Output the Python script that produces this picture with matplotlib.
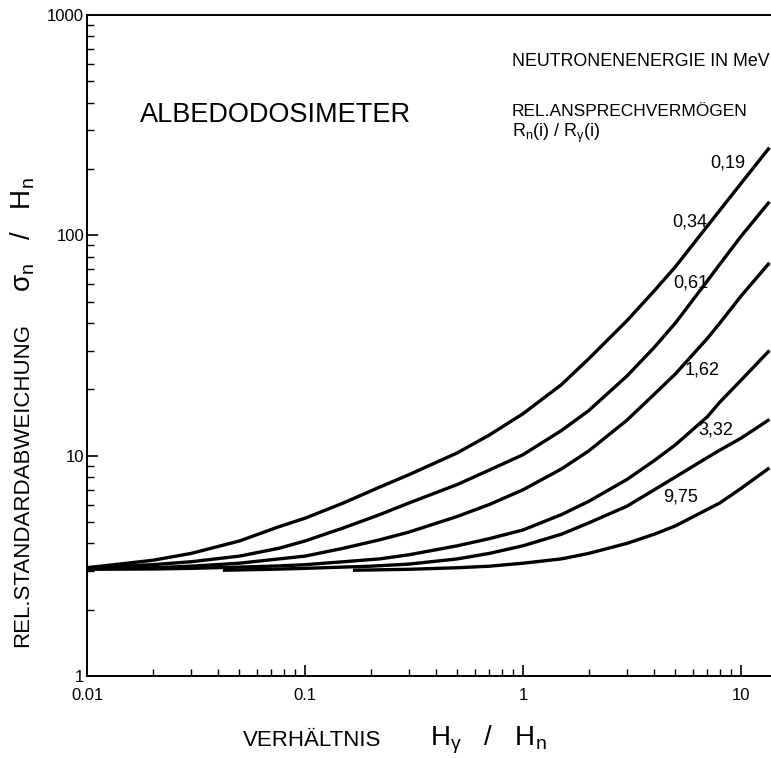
import numpy as np
import matplotlib
matplotlib.use("Agg")
import matplotlib.pyplot as plt
from matplotlib import font_manager

# ablesewerte: rel. standardabweichung sigma_n/H_n ueber H_gamma/H_n
x_a = [0.01, 0.02, 0.03, 0.05, 0.076, 0.1, 0.15, 0.22, 0.3, 0.5, 0.7, 1, 1.5, 2, 3, 4, 5, 7, 8, 10, 13.5]
y_019 = [3.1, 3.35, 3.6, 4.1, 4.76, 5.2, 6.1, 7.2, 8.2, 10.3, 12.4, 15.5, 21, 27.5, 41, 56, 72, 110, 130, 172, 250]
y_034 = [3.1, 3.2, 3.3, 3.5, 3.8, 4.1, 4.7, 5.4, 6.1, 7.4, 8.6, 10.1, 13, 16, 23, 31, 40, 62, 74, 99, 142]
y_061 = [3.08, 3.1, 3.15, 3.25, 3.4, 3.5, 3.8, 4.15, 4.5, 5.3, 6.0, 7.0, 8.7, 10.5, 14.5, 19, 23.5, 34, 40, 53, 75]
y_162 = [3.05, 3.06, 3.08, 3.12, 3.16, 3.2, 3.3, 3.4, 3.55, 3.9, 4.2, 4.6, 5.4, 6.2, 7.8, 9.5, 11.2, 15, 17.5, 22, 30]

x_332 = [0.042, 0.07, 0.1, 0.2, 0.3, 0.5, 0.7, 1, 1.5, 2, 3, 4, 5, 7, 8, 10, 13.5]
y_332 = [3.02, 3.05, 3.08, 3.15, 3.22, 3.4, 3.6, 3.9, 4.4, 4.95, 5.9, 7.0, 8.0, 9.8, 10.6, 12.0, 14.6]

x_975 = [0.166, 0.3, 0.5, 0.7, 1, 1.5, 2, 3, 4, 5, 7, 8, 10, 13.5]
y_975 = [3.02, 3.05, 3.1, 3.15, 3.25, 3.4, 3.6, 4.0, 4.4, 4.8, 5.7, 6.1, 7.1, 8.8]

kurven = [
    ("0,19", x_a, y_019),
    ("0,34", x_a, y_034),
    ("0,61", x_a, y_061),
    ("1,62", x_a, y_162),
    ("3,32", x_332, y_332),
    ("9,75", x_975, y_975),
]
# beschriftung der kurven (pixel, rechte kante / mitte)
label_pos = [(745, 163), (707, 222), (708, 283), (720, 370), (733, 430), (698, 497)]

installed = {f.name for f in font_manager.fontManager.ttflist}
family = [f for f in ["Liberation Sans", "DejaVu Sans"] if f in installed]
plt.rcParams["font.family"] = family
plt.rcParams["mathtext.fontset"] = "custom"
plt.rcParams["mathtext.rm"] = family[0]

W, H = 771, 758
fig = plt.figure(figsize=(W / 100, H / 100), dpi=100)
ax = fig.add_axes([87 / W, (H - 676) / H, (W - 87) / W, (676 - 15) / H])

for name, xs, ys in kurven:
    ax.plot(xs, ys, "-k", lw=2.4, solid_capstyle="butt", solid_joinstyle="round")

ax.set_xscale("log")
ax.set_yscale("log")
ax.set_xlim(0.01, 10 ** (1 + 30 / 218))
ax.set_ylim(1, 1000)
ax.set_xticks([0.01, 0.1, 1, 10], ["0.01", "0.1", "1", "10"])
ax.set_yticks([1, 10, 100, 1000], ["1", "10", "100", "1000"])
ax.tick_params(which="major", direction="in", length=8, width=1.2, labelsize=12)
ax.tick_params(which="minor", direction="in", length=5, width=1.0)
ax.tick_params(axis="x", pad=9)
ax.tick_params(axis="y", pad=2)
ax.spines["right"].set_visible(False)
for s in ["left", "bottom", "top"]:
    ax.spines[s].set_linewidth(1.4)


def px(x, y):
    return x / W, 1 - y / H


for (name, xs, ys), (lx, ly) in zip(kurven, label_pos):
    fig.text(*px(lx, ly), name, fontsize=13, ha="right", va="center")

fig.text(*px(140, 115), "ALBEDODOSIMETER", fontsize=19.5, ha="left", va="center")
fig.text(*px(512, 61), "NEUTRONENENERGIE IN MeV", fontsize=12.8, ha="left", va="center")
fig.text(*px(512, 112), "REL.ANSPRECHVERMÖGEN", fontsize=12.5, ha="left", va="center")
fig.text(*px(512, 133), r"R$_\mathregular{n}$(i) / R$_\mathregular{γ}$(i)", fontsize=13,
         ha="left", va="center")

fig.text(*px(243, 740), "VERHÄLTNIS", fontsize=16, ha="left", va="center")
fig.text(*px(430, 740), r"H$_\mathregular{γ}$   /   H$_\mathregular{n}$", fontsize=20,
         ha="left", va="center")
fig.text(*px(23, 647), "REL.STANDARDABWEICHUNG", fontsize=16, ha="center", va="bottom",
         rotation=90)
fig.text(*px(23, 292), r"σ$_\mathregular{n}$   /   H$_\mathregular{n}$", fontsize=20,
         ha="center", va="bottom", rotation=90)

fig.savefig("out.png", dpi=100)
